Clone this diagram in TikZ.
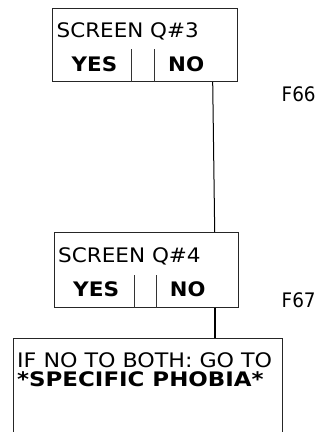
\documentclass[tikz,border=0pt]{standalone}
\usepackage{fontspec}
\usepackage{graphicx}
\setmainfont{DejaVu Sans}
\usetikzlibrary{calc}
\newsavebox\fitbox
\newcommand\fitw[2]{\sbox\fitbox{#2}\pgfmathsetmacro\myfitfac{#1/\the\wd\fitbox}\scalebox{\myfitfac}[1]{\usebox\fitbox}}
\begin{document}
\begin{tikzpicture}[x=1pt,y=-1pt,
  box/.style={draw=black!85,line width=1pt,rectangle,inner sep=0pt,anchor=north west},
  txt/.style={inner sep=0pt,anchor=base west,font=\fontsize{20}{24}\selectfont},
  btxt/.style={txt,font=\fontsize{20}{24}\selectfont\bfseries},
  conn/.style={draw=black,line width=1pt},
  bar/.style={draw=black!80,line width=1pt}]
\clip (0,0) rectangle (331,432);
\node[box,minimum width=184.4pt,minimum height=73pt] (b1) at (52.3,8) {};
\node[box,minimum width=184.3pt,minimum height=74.5pt] (b2) at (54,232) {};
\node[box,line width=1.4pt,minimum width=269pt,minimum height=110pt] (b3) at (13,338) {};
% box 1 texts
\node[txt] (s1) at (56.5,37.7) {\fitw{142pt}{SCREEN Q\#3}};
\node[btxt] (y1) at (71.5,71.7) {\fitw{45.5pt}{YES}};
\node[btxt] (n1) at (168,71.7) {\fitw{36pt}{NO}};
\draw[bar] ($(b1.south west)+(78.7,0)$) coordinate (b1a) -- ++(0,-33);
\draw[bar] ($(b1.south west)+(101.7,0)$) coordinate (b1b) -- ++(0,-33);
% box 2 texts
\node[txt] (s2) at (58,262.7) {\fitw{142.5pt}{SCREEN Q\#4}};
\node[btxt] (y2) at (73,296) {\fitw{46pt}{YES}};
\node[btxt] (n2) at (169.7,296) {\fitw{35.5pt}{NO}};
\draw[bar] ($(b2.south west)+(80.3,0)$) coordinate (b2a) -- ++(0,-33);
\draw[bar] ($(b2.south west)+(102.7,0)$) coordinate (b2b) -- ++(0,-33);
% box 3 texts
\node[txt] (t1) at (17,367.7) {\fitw{255pt}{IF NO TO BOTH: GO TO}};
\node[btxt] (t2) at (17,386.7) {\fitw{246.5pt}{*SPECIFIC PHOBIA*}};
% side labels
\node[txt] (f66) at (281.5,101) {\fitw{34pt}{F66}};
\node[txt] (f67) at (281.5,307) {\fitw{34pt}{F67}};
% connectors
\draw[conn] ($(b1.south west)+(160.4,0)$) -- ($(b2.north west)+(160.7,0)$);
\draw[conn,line width=2pt] ($(b2.south west)+(161,0)$) -- ($(b3.north west)+(202,0)$);
\end{tikzpicture}
\end{document}
